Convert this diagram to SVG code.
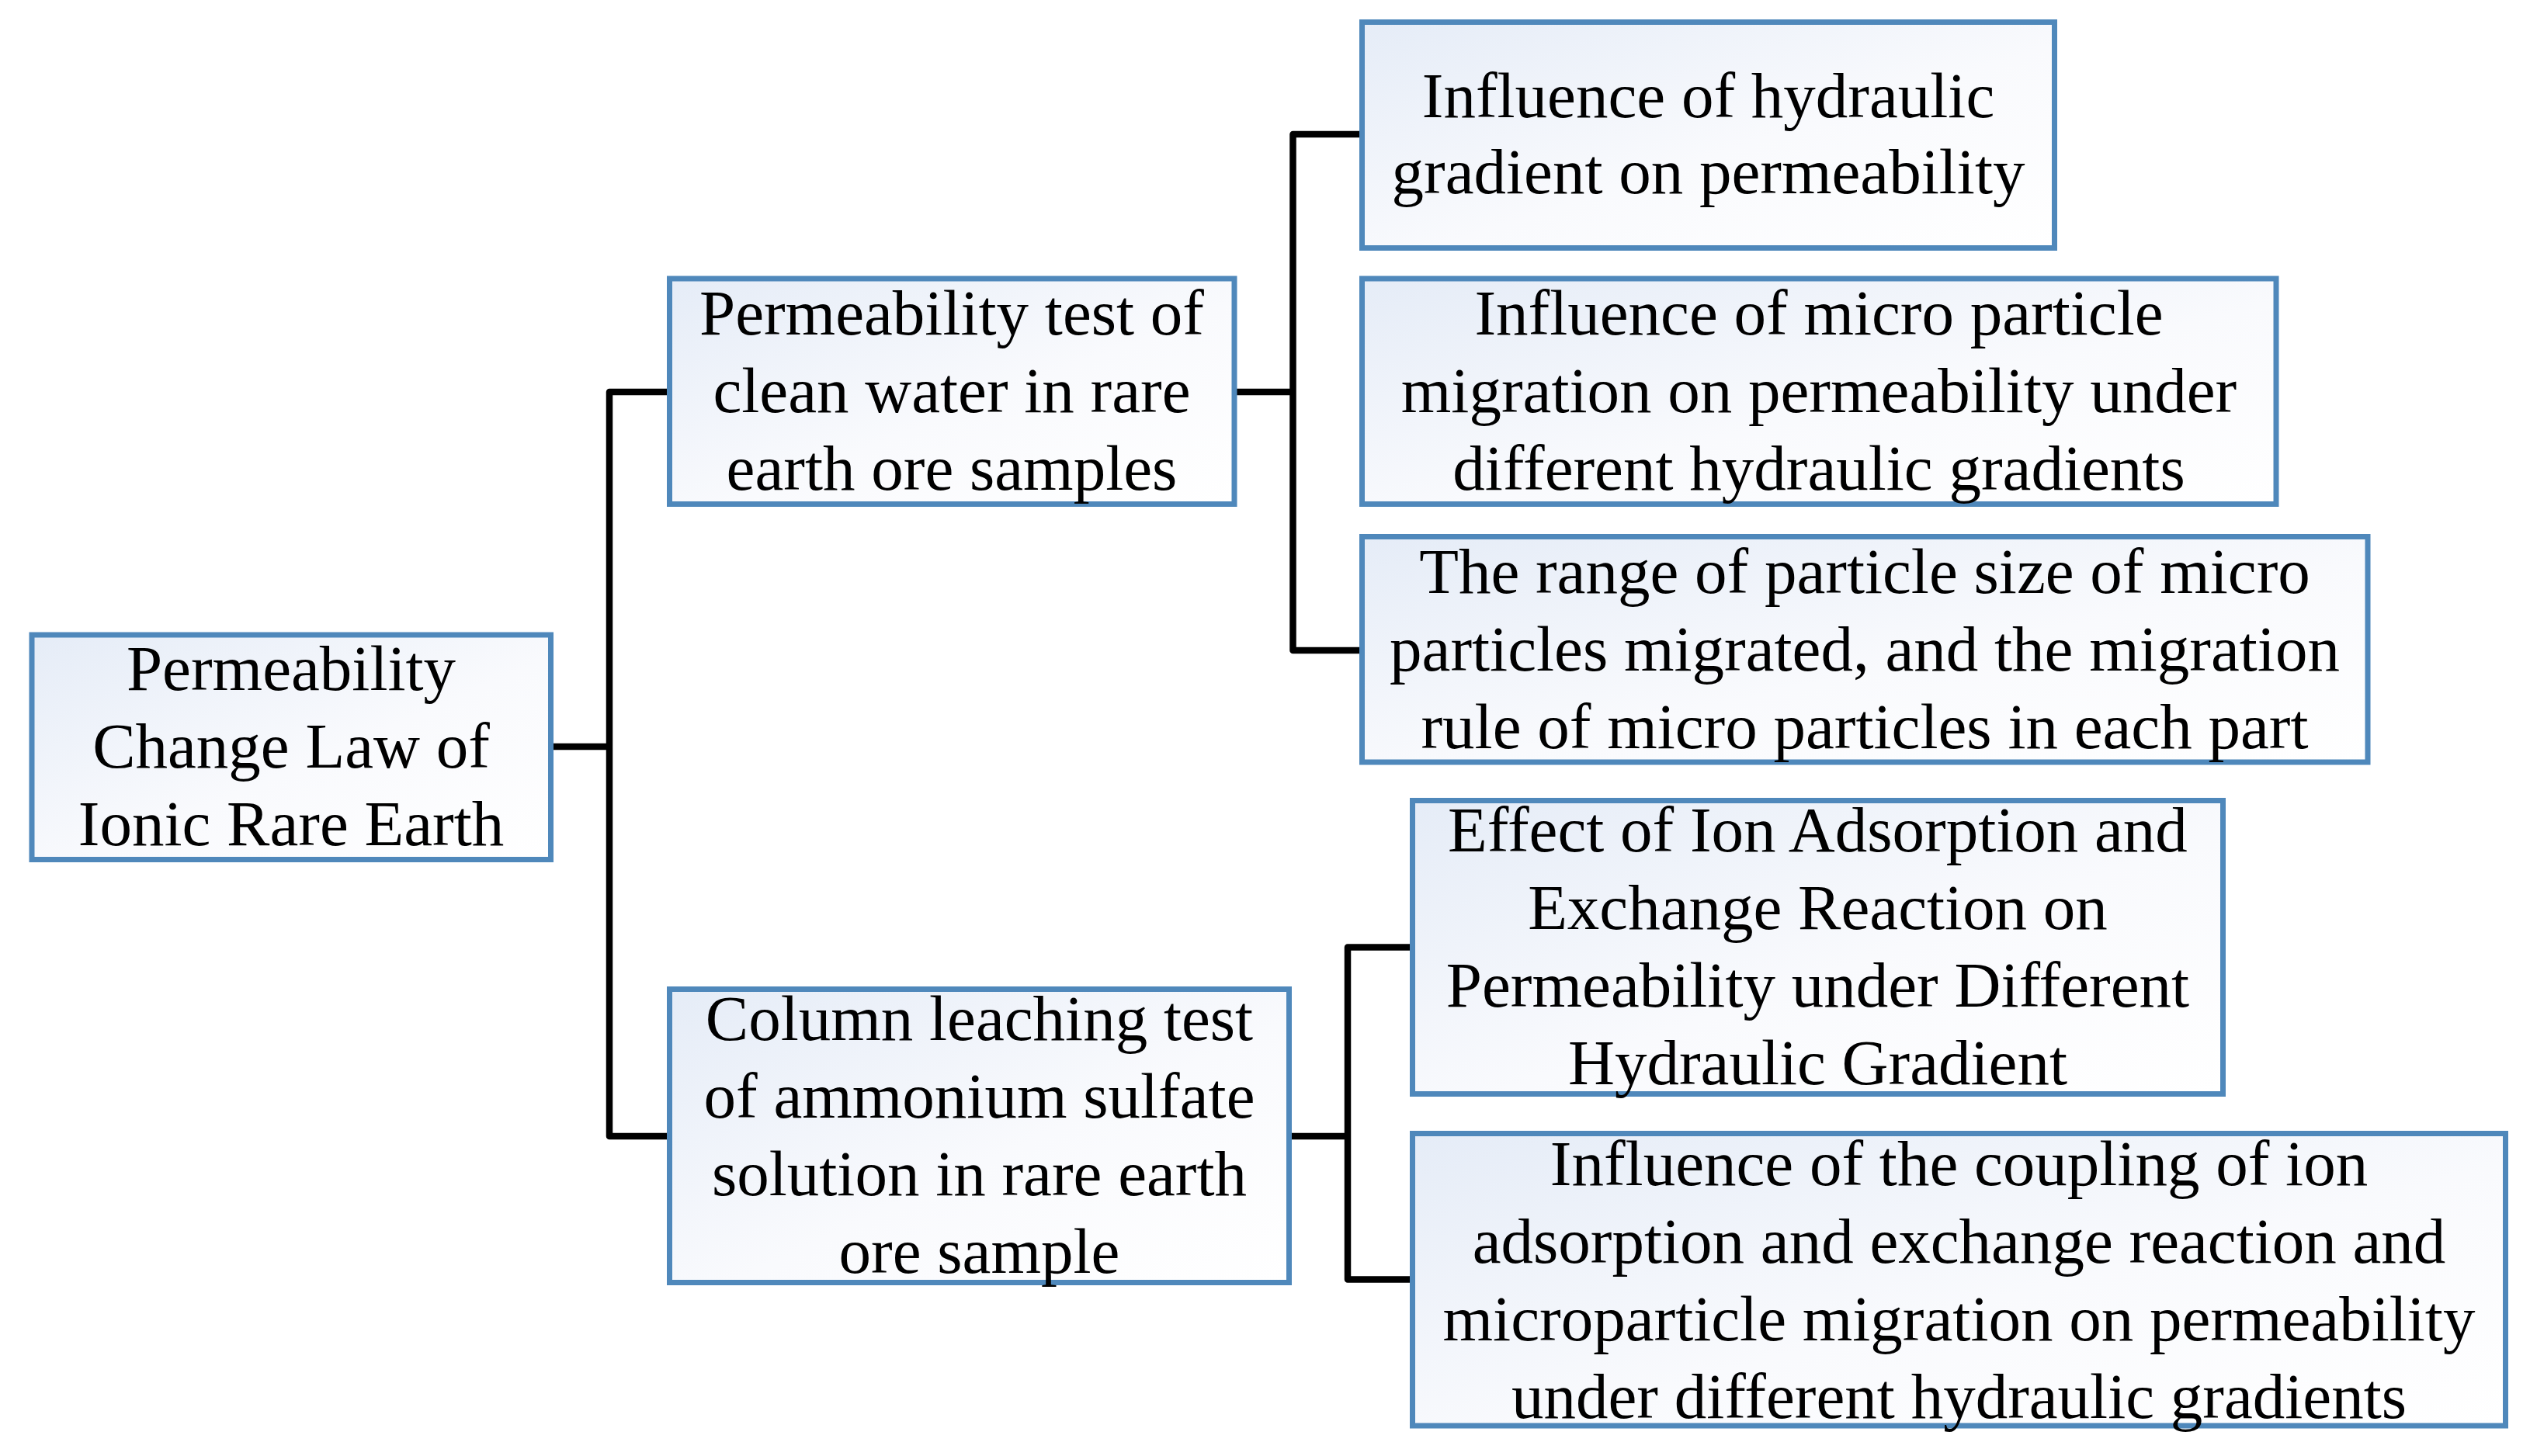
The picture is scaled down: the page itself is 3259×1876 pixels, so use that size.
<svg xmlns="http://www.w3.org/2000/svg" width="3259" height="1876" viewBox="0 0 3259 1876">
<defs>
<linearGradient id="fillg" x1="0" y1="0" x2="1" y2="1">
<stop offset="0" stop-color="#e5ecf7"/>
<stop offset="0.55" stop-color="#f9fafd"/>
<stop offset="1" stop-color="#ffffff"/>
</linearGradient>
<style>
.box{fill:url(#fillg);stroke:#4f88bb;stroke-width:7}
.t{font-family:"Liberation Serif","Times New Roman",serif;font-size:83px;fill:#000;text-anchor:middle}
.c{fill:none;stroke:#000;stroke-width:8.5;stroke-linecap:round;stroke-linejoin:round}
</style>
</defs>
<rect width="3259" height="1876" fill="#ffffff"/>
<g id="connectors">
<path class="c" d="M709.5,962 H785 M785,505 V1464 M785,505 H862.5 M785,1464 H862.5"/>
<path class="c" d="M1590,505 H1665.5 M1665.5,173 V838 M1665.5,173 H1754.5 M1665.5,838 H1754.5"/>
<path class="c" d="M1660.5,1464 H1736 M1736,1220.5 V1648.5 M1736,1220.5 H1819.5 M1736,1648.5 H1819.5"/>
</g>
<g id="root">
<rect class="box" x="41" y="818" width="668.5" height="289.5"/>
<text class="t" x="375" y="889">Permeability</text>
<text class="t" x="375" y="989">Change Law of</text>
<text class="t" x="375" y="1089">Ionic Rare Earth</text>
</g>
<g id="nodeA">
<rect class="box" x="862.5" y="359" width="727.5" height="290.5"/>
<text class="t" x="1226" y="431">Permeability test of</text>
<text class="t" x="1226" y="531">clean water in rare</text>
<text class="t" x="1226" y="631">earth ore samples</text>
</g>
<g id="nodeB">
<rect class="box" x="862.5" y="1274.5" width="798" height="378"/>
<text class="t" x="1261.5" y="1340">Column leaching test</text>
<text class="t" x="1261.5" y="1440">of ammonium sulfate</text>
<text class="t" x="1261.5" y="1540">solution in rare earth</text>
<text class="t" x="1261.5" y="1640">ore sample</text>
</g>
<g id="nodeC1">
<rect class="box" x="1754.5" y="28.5" width="892" height="291"/>
<text class="t" x="2200.5" y="151">Influence of hydraulic</text>
<text class="t" x="2200.5" y="249">gradient on permeability</text>
</g>
<g id="nodeC2">
<rect class="box" x="1754.5" y="359" width="1177.5" height="290.5"/>
<text class="t" x="2343" y="431">Influence of micro particle</text>
<text class="t" x="2343" y="531">migration on permeability under</text>
<text class="t" x="2343" y="631">different hydraulic gradients</text>
</g>
<g id="nodeC3">
<rect class="box" x="1754.5" y="691.5" width="1295.5" height="290.5"/>
<text class="t" x="2402" y="764">The range of particle size of micro</text>
<text class="t" x="2402" y="864">particles migrated, and the migration</text>
<text class="t" x="2402" y="964">rule of micro particles in each part</text>
</g>
<g id="nodeD1">
<rect class="box" x="1819.5" y="1031.5" width="1044" height="378"/>
<text class="t" x="2341.5" y="1097">Effect of Ion Adsorption and</text>
<text class="t" x="2341.5" y="1197">Exchange Reaction on</text>
<text class="t" x="2341.5" y="1297">Permeability under Different</text>
<text class="t" x="2341.5" y="1397">Hydraulic Gradient</text>
</g>
<g id="nodeD2">
<rect class="box" x="1819.5" y="1460.5" width="1408" height="376.5"/>
<text class="t" x="2523.5" y="1527">Influence of the coupling of ion</text>
<text class="t" x="2523.5" y="1627">adsorption and exchange reaction and</text>
<text class="t" x="2523.5" y="1727">microparticle migration on permeability</text>
<text class="t" x="2523.5" y="1827">under different hydraulic gradients</text>
</g>
</svg>
